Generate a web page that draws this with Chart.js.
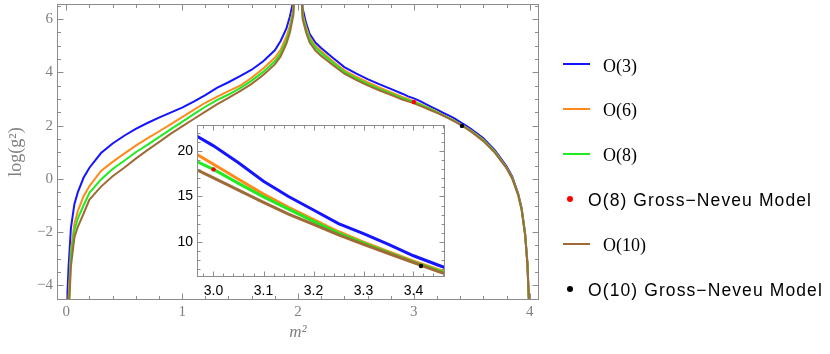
<!DOCTYPE html>
<html>
<head>
<meta charset="utf-8">
<script src="https://cdn.jsdelivr.net/npm/chart.js@4.4.1/dist/chart.umd.min.js"></script>
<style>
  html, body { margin: 0; padding: 0; background: #fff; }
  #wrap { position: relative; width: 830px; height: 354px; overflow: hidden; }
  #mainChart { position: absolute; left: 0; top: 0; }
  #insetChart { position: absolute; left: 151px; top: 120px; }
  .swatch { position: absolute; width: 27px; height: 2px; }
  .dot { position: absolute; width: 6px; height: 6px; border-radius: 50%; }
  .lab { position: absolute; height: 22px; line-height: 22px; white-space: nowrap; color: #000; }
  .serif { font-family: 'Liberation Serif', 'Times New Roman', serif; font-size: 18px; }
  .sans { font-family: 'Liberation Sans', Arial, sans-serif; font-size: 17.5px; letter-spacing: 1.1px; }
</style>
</head>
<body>
<div id="wrap">
  <canvas id="mainChart" width="830" height="354"></canvas>
  <canvas id="insetChart" width="300" height="185"></canvas>
  <div id="legend"></div>
</div>
<script>
// m^2 grid shared by all curves
const m2 = [0.005, 0.02, 0.04, 0.07, 0.1, 0.15, 0.2, 0.3, 0.4, 0.5,
  0.6, 0.7, 0.8, 0.9, 1.0, 1.1, 1.2, 1.3, 1.4, 1.5,
  1.6, 1.7, 1.8, 1.85, 1.9, 1.93, 1.96, 1.98, 2.02, 2.04,
  2.07, 2.1, 2.15, 2.2, 2.3, 2.4, 2.5, 2.6, 2.7, 2.8,
  2.9, 2.95, 3.0, 3.05, 3.1, 3.15, 3.2, 3.25, 3.3, 3.35,
  3.4, 3.45, 3.5, 3.6, 3.7, 3.8, 3.85, 3.9, 3.93, 3.96,
  3.98, 3.995];

// log(g^2) for each model
const logO3 = [-4.8, -3.3, -1.85, -0.95, -0.5, 0.05, 0.42, 0.97, 1.33, 1.62,
  1.88, 2.1, 2.3, 2.49, 2.68, 2.9, 3.15, 3.42, 3.63, 3.86,
  4.1, 4.42, 4.83, 5.18, 5.65, 6.1, 6.7, 8, 8, 6.4,
  5.85, 5.45, 5.12, 4.92, 4.55, 4.2, 3.96, 3.75, 3.56, 3.38,
  3.2, 3.1, 3.025, 2.93, 2.815, 2.708, 2.603, 2.485, 2.389, 2.272,
  2.134, 2.001, 1.856, 1.53, 1.07, 0.47, 0.07, -0.55, -1.1, -2.05,
  -3.15, -4.8];
const logO6 = [-5.5, -4.5, -2.7, -1.7, -1.2, -0.65, -0.27, 0.3, 0.64, 0.95,
  1.25, 1.52, 1.78, 2.05, 2.32, 2.59, 2.86, 3.08, 3.3, 3.5,
  3.8, 4.15, 4.55, 4.85, 5.35, 5.75, 6.4, 8, 8, 6.2,
  5.7, 5.33, 5.0, 4.8, 4.42, 4.08, 3.84, 3.63, 3.44, 3.26,
  3.08, 3.006, 2.921, 2.827, 2.725, 2.625, 2.522, 2.407, 2.298, 2.186,
  2.061, 1.932, 1.792, 1.47, 1.02, 0.43, 0.03, -0.58, -1.13, -2.08,
  -3.18, -4.8];
const logO8 = [-6, -5.0, -2.9, -1.95, -1.48, -0.99, -0.52, -0.02, 0.37, 0.68,
  1.0, 1.28, 1.57, 1.86, 2.14, 2.43, 2.71, 2.96, 3.17, 3.41,
  3.69, 4.02, 4.42, 4.72, 5.2, 5.62, 6.3, 8, 8, 6.1,
  5.62, 5.25, 4.93, 4.73, 4.36, 4.02, 3.78, 3.57, 3.38, 3.21,
  3.03, 2.96, 2.89, 2.8, 2.705, 2.61, 2.506, 2.393, 2.287, 2.175,
  2.048, 1.917, 1.775, 1.45, 1.0, 0.41, 0.01, -0.6, -1.15, -2.1,
  -3.2, -4.8];
const logO10 = [-6, -5.2, -3.3, -2.2, -1.8, -1.3, -0.78, -0.29, 0.1, 0.42,
  0.76, 1.08, 1.38, 1.69, 1.97, 2.25, 2.53, 2.8, 3.04, 3.3,
  3.57, 3.9, 4.3, 4.6, 5.08, 5.5, 6.15, 8, 8, 6.0,
  5.5, 5.13, 4.82, 4.62, 4.28, 3.95, 3.72, 3.51, 3.33, 3.16,
  2.98, 2.912, 2.836, 2.754, 2.664, 2.569, 2.477, 2.375, 2.272, 2.163,
  2.041, 1.902, 1.758, 1.42, 0.98, 0.4, 0.0, -0.6, -1.15, -2.1,
  -3.2, -4.8];

// Gross-Neveu points, log(g^2)
const gn8X = [3.0];
const gn8Y = [2.89];
const gn10X = [3.415];
const gn10Y = [1.99];

// tick labels
const mainXTicks = [0, 1, 2, 3, 4];
const mainYTicks = [-4, -2, 0, 2, 4, 6];
const insetXTicks = [3.0, 3.1, 3.2, 3.3, 3.4];
const insetYTicks = [10, 15, 20];

const colors = {
  o3: '#1414ff',
  o6: '#ff8a1c',
  o8: '#20ea20',
  o10: '#a06a36',
  gn8: '#ff0000',
  gn10: '#000000'
};

const curves = [
  {label: 'O(3)', ys: logO3, color: colors.o3, order: 5},
  {label: 'O(6)', ys: logO6, color: colors.o6, order: 4},
  {label: 'O(8)', ys: logO8, color: colors.o8, order: 3},
  {label: 'O(10)', ys: logO10, color: colors.o10, order: 2}
];

// frame with inward ticks on all four sides (Mathematica style)
const tickFrame = {
  id: 'tickFrame',
  beforeDatasetsDraw(chart, args, o) {
    if (!o.fill) return;
    const {ctx, chartArea: a} = chart;
    ctx.save();
    ctx.fillStyle = o.fill;
    ctx.fillRect(a.left, a.top, a.right - a.left, a.bottom - a.top);
    ctx.restore();
  },
  afterDatasetsDraw(chart, args, o) {
    const {ctx, chartArea: a, scales: {x, y}} = chart;
    const L = Math.round(a.left) + 0.5, R = Math.round(a.right) - 0.5;
    const T = Math.round(a.top) + 0.5, B = Math.round(a.bottom) - 0.5;
    const steps = (min, max, step) => {
      const out = [];
      const first = Math.ceil(min / step - 1e-9);
      for (let i = first; i * step <= max + 1e-9; i++) out.push(i * step);
      return out;
    };
    const isMajor = (v, majors) => majors.some(m => Math.abs(m - v) < 1e-6);
    ctx.save();
    ctx.strokeStyle = o.color;
    ctx.lineWidth = 1;
    ctx.beginPath();
    steps(x.min, x.max, o.xMinor).forEach(v => {
      const len = isMajor(v, o.xMajor) ? o.major : o.minor;
      const px = Math.round(x.getPixelForValue(v)) + 0.5;
      ctx.moveTo(px, B); ctx.lineTo(px, B - len);
      ctx.moveTo(px, T); ctx.lineTo(px, T + len);
    });
    steps(y.min, y.max, o.yMinor).forEach(v => {
      const len = isMajor(v, o.yMajor) ? o.major : o.minor;
      const py = Math.round(y.getPixelForValue(v)) + 0.5;
      ctx.moveTo(L, py); ctx.lineTo(L + len, py);
      ctx.moveTo(R, py); ctx.lineTo(R - len, py);
    });
    ctx.stroke();
    ctx.strokeRect(L, T, R - L, B - T);
    ctx.restore();
  }
};

const toPoints = (xs, ys, fn) => xs.map((x, i) => ({x: x, y: fn ? fn(ys[i]) : ys[i]}));
const minusFmt = v => (v < 0 ? '\u2212' + Math.abs(v) : String(v));
// fixed axis boxes, no extra padding for end labels
const fixX = h => s => { s.height = h; s.paddingLeft = 0; s.paddingRight = 0; };
const fixY = w => s => { s.width = w; s.paddingTop = 0; s.paddingBottom = 0; };

// main chart
const mainDatasets = curves.map(c => ({
  label: c.label,
  data: toPoints(m2, c.ys),
  showLine: true,
  borderColor: c.color,
  borderWidth: 2,
  pointRadius: 0,
  tension: 0,
  order: c.order
}));
mainDatasets.push({
  label: 'O(8) Gross\u2212Neveu Model',
  data: toPoints(gn8X, gn8Y),
  pointRadius: 2.2, pointBackgroundColor: colors.gn8, pointBorderWidth: 0, order: 0
});
mainDatasets.push({
  label: 'O(10) Gross\u2212Neveu Model',
  data: toPoints(gn10X, gn10Y),
  pointRadius: 2.2, pointBackgroundColor: colors.gn10, pointBorderWidth: 0, order: 0
});

new Chart(document.getElementById('mainChart'), {
  type: 'scatter',
  data: {datasets: mainDatasets},
  options: {
    responsive: false,
    animation: false,
    events: [],
    layout: {padding: {left: 0, right: 291, top: 2, bottom: 0}},
    plugins: {
      legend: {display: false},
      tooltip: {enabled: false},
      tickFrame: {
        color: '#8c8c8c', major: 6, minor: 3.5,
        xMajor: mainXTicks, xMinor: 0.2, yMajor: mainYTicks, yMinor: 0.5
      }
    },
    scales: {
      x: {
        type: 'linear', min: -0.08, max: 4.08,
        afterBuildTicks: s => { s.ticks = mainXTicks.map(v => ({value: v})); },
        afterFit: fixX(54),
        grid: {display: false, drawTicks: false},
        border: {display: false},
        ticks: {
          autoSkip: false, maxRotation: 0, padding: 3,
          color: '#808080',
          font: {family: "'Liberation Serif', serif", size: 15},
          callback: v => minusFmt(v)
        },
        title: {
          display: true, text: 'm\u00b2', color: '#808080',
          font: {family: "'Liberation Serif', serif", size: 17, style: 'italic'},
          padding: {top: 0, bottom: 11}
        }
      },
      y: {
        type: 'linear', min: -4.55, max: 6.57,
        afterBuildTicks: s => { s.ticks = mainYTicks.map(v => ({value: v})); },
        afterFit: fixY(57),
        grid: {display: false, drawTicks: false},
        border: {display: false},
        ticks: {
          autoSkip: false, padding: 4,
          color: '#808080',
          font: {family: "'Liberation Serif', serif", size: 15},
          callback: v => minusFmt(v)
        },
        title: {
          display: true, text: 'log(g\u00b2)', color: '#808080',
          font: {family: "'Liberation Serif', serif", size: 18},
          padding: {top: 5, bottom: 0}
        }
      }
    }
  },
  plugins: [tickFrame]
});

// inset: g^2 near m^2 = 3
const insetDatasets = curves.map(c => ({
  label: c.label,
  data: toPoints(m2, c.ys, Math.exp).filter(p => p.x >= 2.85 && p.x <= 3.55),
  showLine: true,
  borderColor: c.color,
  borderWidth: 3,
  pointRadius: 0,
  tension: 0,
  order: c.order
}));
insetDatasets.push({
  data: toPoints(gn8X, gn8Y, Math.exp),
  pointRadius: 2.2, pointBackgroundColor: colors.gn8, pointBorderWidth: 0, order: 0
});
insetDatasets.push({
  data: toPoints(gn10X, gn10Y, Math.exp),
  pointRadius: 2.2, pointBackgroundColor: colors.gn10, pointBorderWidth: 0, order: 0
});

new Chart(document.getElementById('insetChart'), {
  type: 'scatter',
  data: {datasets: insetDatasets},
  options: {
    responsive: false,
    animation: false,
    events: [],
    layout: {padding: {left: 0, right: 6, top: 5, bottom: 0}},
    plugins: {
      legend: {display: false},
      tooltip: {enabled: false},
      tickFrame: {
        color: '#8c8c8c', major: 5, minor: 3, fill: '#ffffff',
        xMajor: insetXTicks, xMinor: 0.02, yMajor: insetYTicks, yMinor: 1
      }
    },
    scales: {
      x: {
        type: 'linear', min: 2.967, max: 3.463,
        afterBuildTicks: s => { s.ticks = insetXTicks.map(v => ({value: v})); },
        afterFit: fixX(28),
        grid: {display: false, drawTicks: false},
        border: {display: false},
        ticks: {
          autoSkip: false, maxRotation: 0, padding: 6, color: '#000',
          font: {family: "'Liberation Sans', Arial, sans-serif", size: 14},
          callback: v => v.toFixed(1)
        }
      },
      y: {
        type: 'linear', min: 6.1, max: 22.9,
        afterBuildTicks: s => { s.ticks = insetYTicks.map(v => ({value: v})); },
        afterFit: fixY(46),
        grid: {display: false, drawTicks: false},
        border: {display: false},
        ticks: {
          autoSkip: false, padding: 4, color: '#000',
          font: {family: "'Liberation Sans', Arial, sans-serif", size: 14}
        }
      }
    }
  },
  plugins: [tickFrame]
});

// legend on the right
const legendItems = [
  {text: 'O(3)', kind: 'line', color: colors.o3},
  {text: 'O(6)', kind: 'line', color: colors.o6},
  {text: 'O(8)', kind: 'line', color: colors.o8},
  {text: 'O(8) Gross\u2212Neveu Model', kind: 'dot', color: colors.gn8},
  {text: 'O(10)', kind: 'line', color: colors.o10},
  {text: 'O(10) Gross\u2212Neveu Model', kind: 'dot', color: colors.gn10}
];
const legend = document.getElementById('legend');
legendItems.forEach((item, i) => {
  const cy = 64 + i * 44.9;
  const mark = document.createElement('div');
  const lab = document.createElement('div');
  lab.textContent = item.text;
  if (item.kind === 'line') {
    mark.className = 'swatch';
    mark.style.left = '563px';
    mark.style.top = Math.round(cy - 1) + 'px';
    mark.style.background = item.color;
    lab.className = 'lab serif';
    lab.style.left = '603px';
    lab.style.top = Math.round(cy + 1.5 - 11) + 'px';
  } else {
    mark.className = 'dot';
    mark.style.left = '567px';
    mark.style.top = Math.round(cy - 3) + 'px';
    mark.style.background = item.color;
    lab.className = 'lab sans';
    lab.style.left = '588px';
    lab.style.top = Math.round(cy + 1 - 11) + 'px';
  }
  legend.appendChild(mark);
  legend.appendChild(lab);
});
</script>
</body>
</html>
